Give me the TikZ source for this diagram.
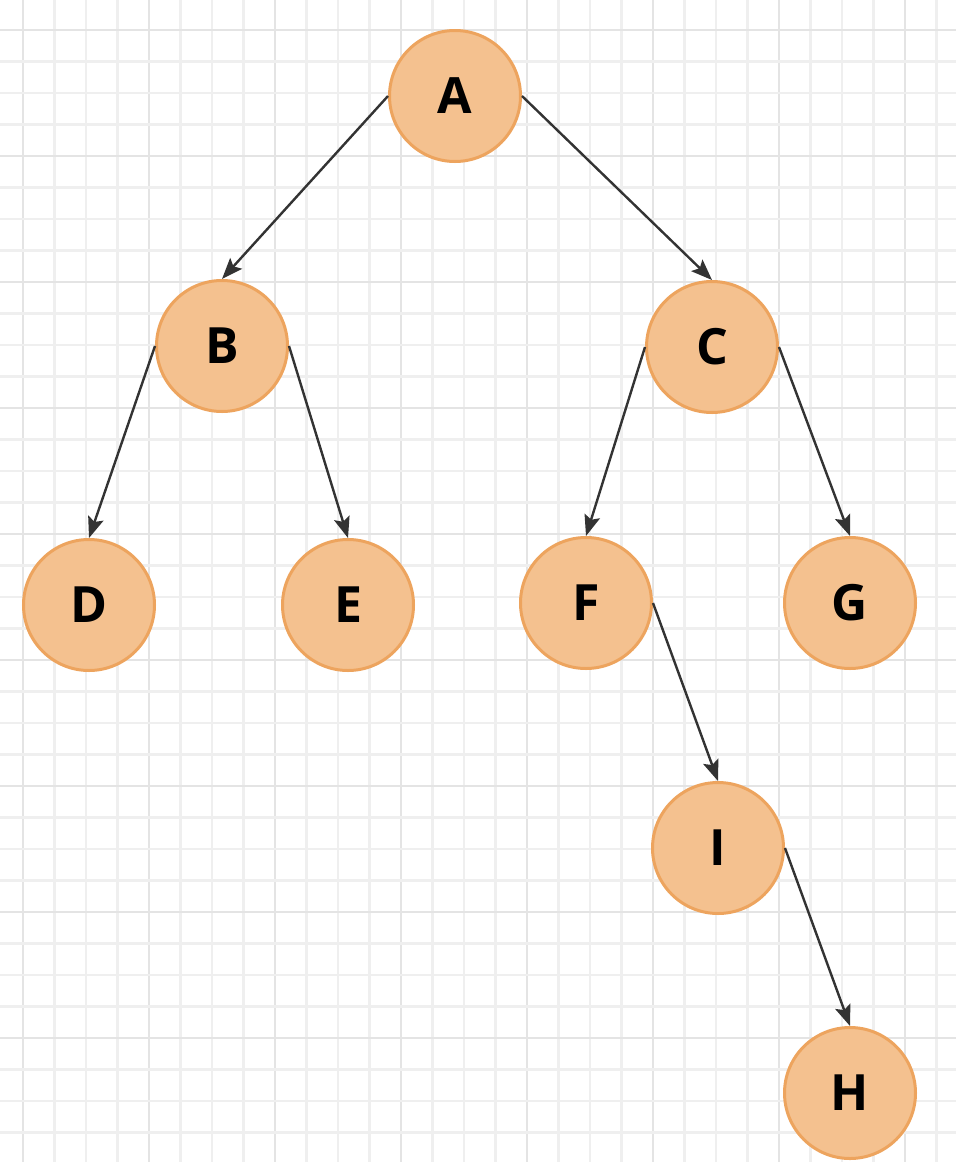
\documentclass[tikz,border=0pt]{standalone}
\usepackage{fontspec}
\setmainfont{Open Sans}
\usetikzlibrary{arrows.meta, positioning}
\definecolor{nodefill}{HTML}{F4C18F}
\definecolor{nodeline}{HTML}{EDA45E}
\definecolor{edgecol}{HTML}{333333}
\definecolor{gridminor}{HTML}{EFEFEF}
\definecolor{gridmajor}{HTML}{E4E4E4}
\tikzset{
  vertex/.style={
    draw=nodeline,
    fill=nodefill,
    circle,
    line width=3pt,
    minimum size=131pt,
    inner sep=0pt,
    font=\fontsize{50}{55}\selectfont\bfseries,
  },
  arrow/.style={
    -{Stealth[length=21pt,width=16pt,inset=4pt]},
    draw=edgecol,
    line width=2.4pt
  }
}
\begin{document}
\begin{tikzpicture}[x=1pt,y=-1pt]
  \useasboundingbox (0,0) rectangle (956,1162);
  \fill[white] (0,0) rectangle (956,1162);
  \foreach \k in {-1,...,29}{
    \pgfmathtruncatemacro{\m}{mod(\k+4,4)}
    \ifnum\m=0 \def\gc{gridmajor}\else \def\gc{gridminor}\fi
    \draw[\gc, line width=2.5pt] ({23+31.5*\k},0) -- ({23+31.5*\k},1162);
  }
  \foreach \k in {-1,...,36}{
    \pgfmathtruncatemacro{\m}{mod(\k+4,4)}
    \ifnum\m=0 \def\gc{gridmajor}\else \def\gc{gridminor}\fi
    \draw[\gc, line width=2.5pt] (0,{30+31.5*\k}) -- (956,{30+31.5*\k});
  }

  \node[vertex] (a) at (455,96) {A};
  \node[vertex] (b) at (222,346) {B};
  \node[vertex] (c) at (712,347) {C};
  \node[vertex] (d) at (89,605) {D};
  \node[vertex] (e) at (348,605) {E};
  \node[vertex] (f) at (586,603) {F};
  \node[vertex] (g) at (850,603) {G};
  \node[vertex] (i) at (718,848) {I};
  \node[vertex] (h) at (850,1093) {H};

  \draw[arrow] (a.west) -- (b.north);
  \draw[arrow] (a.east) -- (c.north);
  \draw[arrow] (b.west) -- (d.north);
  \draw[arrow] (b.east) -- (e.north);
  \draw[arrow] (c.west) -- (f.north);
  \draw[arrow] (c.east) -- (g.north);
  \draw[arrow] (f.east) -- (i.north);
  \draw[arrow] (i.east) -- (h.north);
\end{tikzpicture}
\end{document}
